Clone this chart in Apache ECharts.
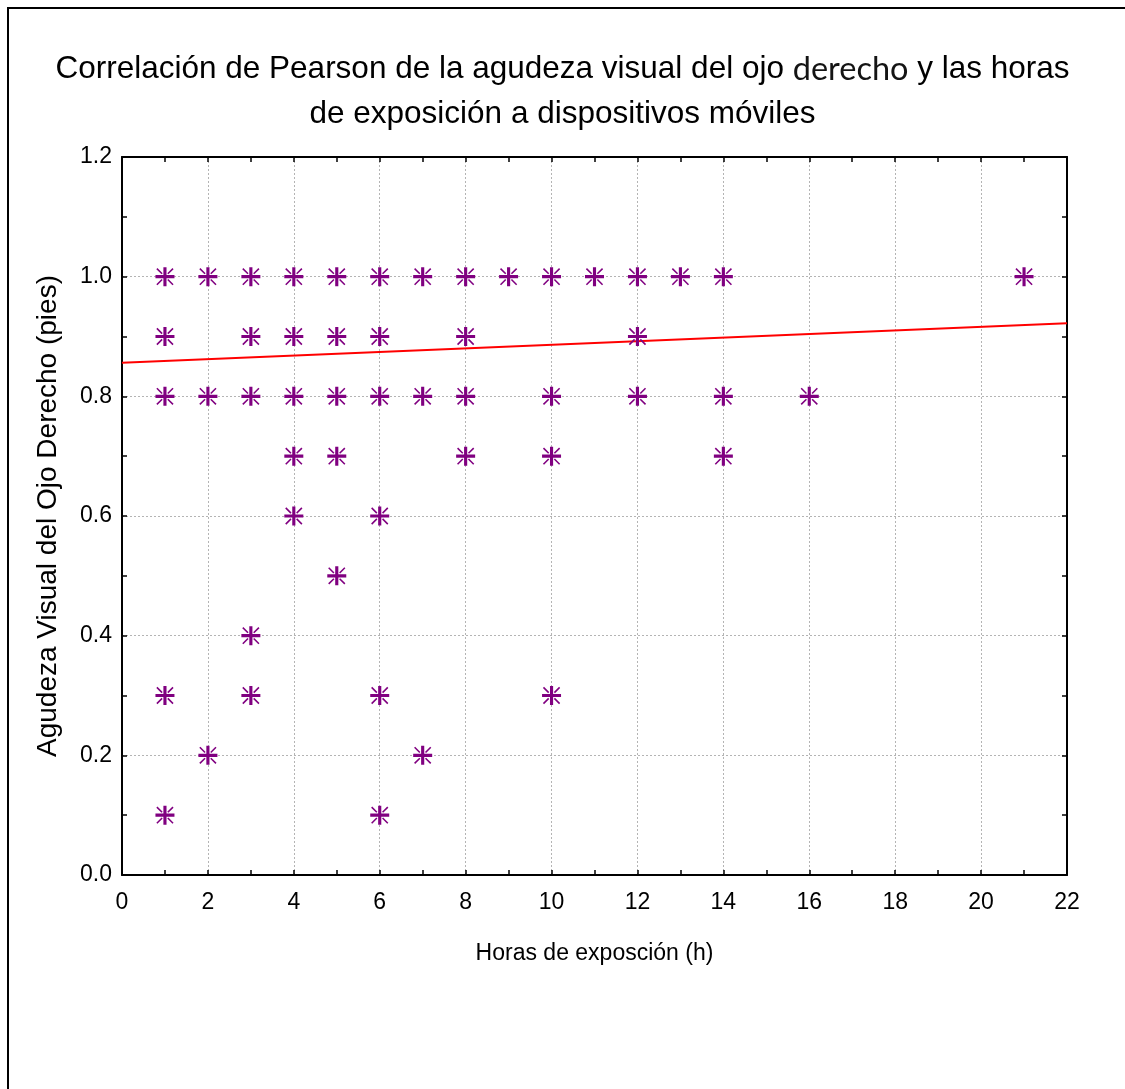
<!DOCTYPE html>
<html>
<head>
<meta charset="utf-8">
<script src="https://cdn.jsdelivr.net/npm/echarts@6/dist/echarts.min.js"></script>
<style>
  html, body { margin: 0; padding: 0; background: #ffffff; }
  #chart { width: 1125px; height: 1089px; }
</style>
</head>
<body>
<div id="chart"></div>
<script>
// Observations: hours of exposure (h) and right-eye visual acuity
const horas = [
  1, 2, 3, 4, 5, 6, 7, 8, 9, 10, 11, 12, 13, 14, 21,
  1, 3, 4, 5, 6, 8, 12,
  1, 2, 3, 4, 5, 6, 7, 8, 10, 12, 14, 16,
  4, 5, 8, 10, 14,
  4, 6,
  5,
  3,
  1, 3, 6, 10,
  2, 7,
  1, 6
];
const agudeza = [
  1.0, 1.0, 1.0, 1.0, 1.0, 1.0, 1.0, 1.0, 1.0, 1.0, 1.0, 1.0, 1.0, 1.0, 1.0,
  0.9, 0.9, 0.9, 0.9, 0.9, 0.9, 0.9,
  0.8, 0.8, 0.8, 0.8, 0.8, 0.8, 0.8, 0.8, 0.8, 0.8, 0.8, 0.8,
  0.7, 0.7, 0.7, 0.7, 0.7,
  0.6, 0.6,
  0.5,
  0.4,
  0.3, 0.3, 0.3, 0.3,
  0.2, 0.2,
  0.1, 0.1
];

// Fitted linear trend (endpoints of the regression line)
const ajusteX = [0, 22];
const ajusteY = [0.856, 0.922];

// Axis ranges and steps: labelled step and the finer tick step
const xRange = [0, 22];
const xStep = 2;
const xTickStep = 1;
const yRange = [0, 1.2];
const yStep = 0.2;
const yTickStep = 0.1;

const puntos = horas.map((h, i) => [h, agudeza[i]]);
const recta = ajusteX.map((x, i) => [x, ajusteY[i]]);

// Asterisk marker: bold plus with thin diagonal strokes at the corners
const asterisco = 'path://' +
  'M16.7,0 L23.3,0 L23.3,40 L16.7,40 Z ' +
  'M0,16.7 L40,16.7 L40,23.3 L0,23.3 Z ' +
  'M4.17,1.83 L15.17,12.83 L12.83,15.17 L1.83,4.17 Z ' +
  'M35.83,1.83 L38.17,4.17 L27.17,15.17 L24.83,12.83 Z ' +
  'M1.83,35.83 L12.83,24.83 L15.17,27.17 L4.17,38.17 Z ' +
  'M24.83,27.17 L27.17,24.83 L38.17,35.83 L35.83,38.17 Z';

const sans = '"Liberation Sans", Arial, sans-serif';

const gridLine = () => ({ show: true, lineStyle: { color: '#b4b4b4', width: 1, type: [2, 2] } });
const frameLine = () => ({ show: true, onZero: false, lineStyle: { color: '#000000', width: 2 } });
const tickIn = () => ({ show: true, inside: true, length: 5, lineStyle: { color: '#000000', width: 1.5 } });
const off = () => ({ show: false });

const chart = echarts.init(document.getElementById('chart'), null, { renderer: 'canvas' });

chart.setOption({
  backgroundColor: '#ffffff',
  animation: false,
  title: {
    left: 'center',
    top: 42,
    text: '{a|Correlación de Pearson de la agudeza visual del ojo }{b|derecho}{a| y las horas}\n{a|de exposición a dispositivos móviles}',
    textStyle: {
      fontWeight: 'normal',
      rich: {
        a: { fontFamily: sans, fontSize: 31.5, fontWeight: 'normal', color: '#000000', lineHeight: 45 },
        b: { fontFamily: 'Lato, "Open Sans", sans-serif', fontSize: 32.5, fontWeight: 'normal', color: '#141414', lineHeight: 45 }
      }
    }
  },
  graphic: [
    {
      type: 'polyline',
      shape: { points: [[8, 1089], [8, 8], [1125, 8]] },
      style: { stroke: '#000000', lineWidth: 2, fill: null },
      silent: true
    }
  ],
  grid: { left: 122, right: 58, top: 157, bottom: 214, containLabel: false },
  xAxis: [
    {
      // bottom axis: ticks every hour, labels every two
      type: 'value', position: 'bottom',
      min: xRange[0], max: xRange[1], interval: xTickStep,
      name: 'Horas de exposción (h)',
      nameLocation: 'middle',
      nameGap: 67,
      nameTextStyle: { fontFamily: sans, fontSize: 23, color: '#000000' },
      axisLine: frameLine(),
      axisTick: tickIn(),
      axisLabel: {
        fontFamily: sans, fontSize: 23, color: '#000000', margin: 16,
        formatter: v => (Math.round(v) % xStep === 0 ? String(Math.round(v)) : '')
      },
      splitLine: off()
    },
    {
      // top frame edge
      type: 'value', position: 'top',
      min: xRange[0], max: xRange[1], interval: xTickStep,
      axisLine: frameLine(), axisTick: tickIn(), axisLabel: off(), splitLine: off()
    },
    {
      // dotted vertical grid
      type: 'value', position: 'bottom',
      min: xRange[0], max: xRange[1], interval: xStep,
      axisLine: off(), axisTick: off(), axisLabel: off(), splitLine: gridLine()
    }
  ],
  yAxis: [
    {
      type: 'value', position: 'left',
      min: yRange[0], max: yRange[1], interval: yTickStep,
      name: 'Agudeza Visual del Ojo Derecho (pies)',
      nameLocation: 'middle',
      nameGap: 60,
      nameRotate: 90,
      nameTextStyle: { fontFamily: sans, fontSize: 28, color: '#000000' },
      axisLine: frameLine(),
      axisTick: tickIn(),
      axisLabel: {
        fontFamily: sans, fontSize: 23, color: '#000000', margin: 10,
        formatter: v => (Math.round(v * 10) % Math.round(yStep * 10) === 0 ? v.toFixed(1) : '')
      },
      splitLine: off()
    },
    {
      // right frame edge
      type: 'value', position: 'right',
      min: yRange[0], max: yRange[1], interval: yTickStep,
      axisLine: frameLine(), axisTick: tickIn(), axisLabel: off(), splitLine: off()
    },
    {
      // dotted horizontal grid
      type: 'value', position: 'left',
      min: yRange[0], max: yRange[1], interval: yStep,
      axisLine: off(), axisTick: off(), axisLabel: off(), splitLine: gridLine()
    }
  ],
  series: [
    {
      name: 'Recta de ajuste',
      type: 'line',
      xAxisIndex: 0, yAxisIndex: 0,
      data: recta,
      showSymbol: false,
      symbol: 'none',
      lineStyle: { color: '#ff0000', width: 2 },
      z: 2
    },
    {
      name: 'Observaciones',
      type: 'scatter',
      xAxisIndex: 0, yAxisIndex: 0,
      data: puntos,
      symbol: asterisco,
      symbolSize: 19,
      itemStyle: { color: '#800080', opacity: 1 },
      z: 3
    }
  ]
});
</script>
</body>
</html>
